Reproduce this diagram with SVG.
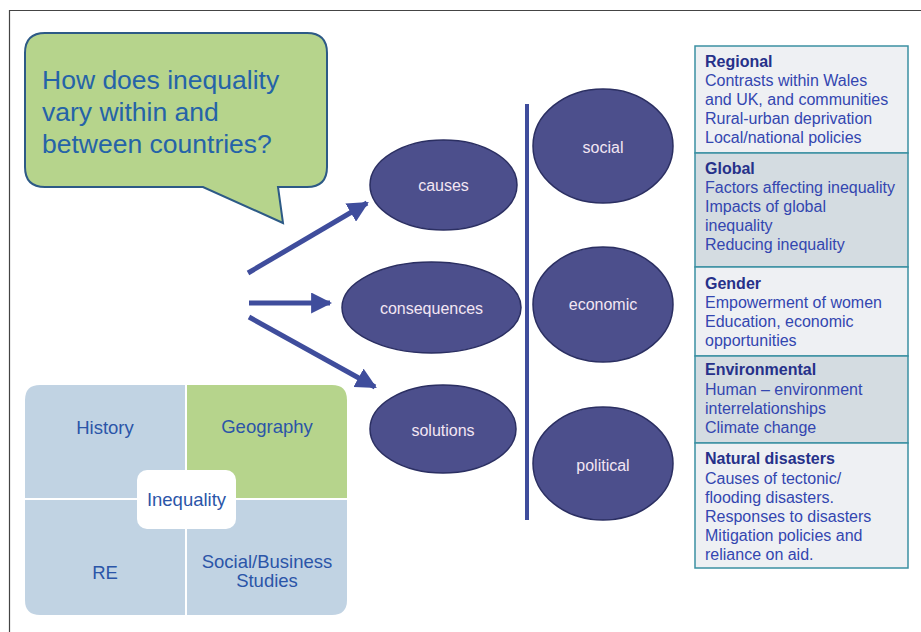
<svg xmlns="http://www.w3.org/2000/svg" width="921" height="632" viewBox="0 0 921 632">
<style>
text{font-family:"Liberation Sans",Arial,sans-serif}
.oval{fill:#4c4f8c;stroke:#2b2f62;stroke-width:1.5}
.ot{fill:#f3e6f3;font-size:16px;text-anchor:middle}
.arr{stroke:#3f4d9c;stroke-width:5;fill:none}
.q{fill:#c1d3e3}
.qt{fill:#2b55a8;font-size:18.5px;text-anchor:middle}
.h{fill:#26318a;font-size:16px;font-weight:bold}
.b{fill:#3346b0;font-size:16px}
.lt{fill:#eef0f3;stroke:#3b90a2;stroke-width:1.5}
.dk{fill:#d4dce1;stroke:#3b90a2;stroke-width:1.5}
</style>
<defs>
<marker id="ah" viewBox="0 0 10 10" refX="9" refY="5" markerWidth="4.2" markerHeight="4.2" orient="auto" markerUnits="strokeWidth">
<path d="M0,0 L10,5 L0,10 z" fill="#3f4d9c"/>
</marker>
</defs>
<rect width="921" height="632" fill="#ffffff"/>
<path d="M9.5,640 V10.5 H930" fill="none" stroke="#444" stroke-width="1.2"/>

<g id="bubble">
<path d="M45,33 H307 Q327,33 327,53 V167 Q327,187 307,187 H278 L283,223 L203,187 H45 Q25,187 25,167 V53 Q25,33 45,33 Z" fill="#b6d48c" stroke="#2d5a86" stroke-width="2"/>
<text x="42" y="89" fill="#2563a8" font-size="26.5">How does inequality</text>
<text x="42" y="121" fill="#2563a8" font-size="26.5">vary within and</text>
<text x="42" y="153" fill="#2563a8" font-size="26.5">between countries?</text>
</g>

<g id="connectors">
<line class="arr" x1="248" y1="273" x2="367" y2="203" marker-end="url(#ah)"/>
<line class="arr" x1="249" y1="303" x2="330" y2="303" marker-end="url(#ah)"/>
<line class="arr" x1="249" y1="317" x2="375" y2="387" marker-end="url(#ah)"/>
<line x1="527" y1="104" x2="527" y2="520" stroke="#3f4d9c" stroke-width="4"/>
</g>

<g id="causes"><ellipse class="oval" cx="443.5" cy="185" rx="73.5" ry="45"/><text class="ot" x="443.5" y="191">causes</text></g>
<g id="consequences"><ellipse class="oval" cx="431.5" cy="307.5" rx="89.5" ry="45.5"/><text class="ot" x="431.5" y="314">consequences</text></g>
<g id="solutions"><ellipse class="oval" cx="443" cy="429" rx="73" ry="44"/><text class="ot" x="443" y="436">solutions</text></g>

<g id="social"><ellipse class="oval" cx="603" cy="146" rx="70" ry="57"/><text class="ot" x="603" y="153">social</text></g>
<g id="economic"><ellipse class="oval" cx="603" cy="304.5" rx="70" ry="57.5"/><text class="ot" x="603" y="310">economic</text></g>
<g id="political"><ellipse class="oval" cx="603" cy="463.5" rx="70" ry="56.5"/><text class="ot" x="603" y="471">political</text></g>

<g id="regional">
<rect class="lt" x="695" y="46" width="213" height="107"/>
<text class="h" x="705" y="67">Regional</text>
<text class="b" x="705" y="86">Contrasts within Wales</text>
<text class="b" x="705" y="105">and UK, and communities</text>
<text class="b" x="705" y="124">Rural-urban deprivation</text>
<text class="b" x="705" y="143">Local/national policies</text>
</g>
<g id="global">
<rect class="dk" x="695" y="153" width="213" height="114"/>
<text class="h" x="705" y="174">Global</text>
<text class="b" x="705" y="193">Factors affecting inequality</text>
<text class="b" x="705" y="212">Impacts of global</text>
<text class="b" x="705" y="231">inequality</text>
<text class="b" x="705" y="250">Reducing inequality</text>
</g>
<g id="gender">
<rect class="lt" x="695" y="267" width="213" height="89"/>
<text class="h" x="705" y="289">Gender</text>
<text class="b" x="705" y="308">Empowerment of women</text>
<text class="b" x="705" y="327">Education, economic</text>
<text class="b" x="705" y="346">opportunities</text>
</g>
<g id="environmental">
<rect class="dk" x="695" y="356" width="213" height="87"/>
<text class="h" x="705" y="375">Environmental</text>
<text class="b" x="705" y="395">Human – environment</text>
<text class="b" x="705" y="414">interrelationships</text>
<text class="b" x="705" y="433">Climate change</text>
</g>
<g id="natural">
<rect class="lt" x="695" y="443" width="213" height="125"/>
<text class="h" x="705" y="464">Natural disasters</text>
<text class="b" x="705" y="484">Causes of tectonic/</text>
<text class="b" x="705" y="503">flooding disasters.</text>
<text class="b" x="705" y="522">Responses to disasters</text>
<text class="b" x="705" y="541">Mitigation policies and</text>
<text class="b" x="705" y="560">reliance on aid.</text>
</g>

<g id="subjects">
<path class="q" d="M40,385 H185 V498 H25 V400 Q25,385 40,385 Z"/>
<path d="M187,385 H332 Q347,385 347,400 V498 H187 Z" fill="#b6d48c"/>
<path class="q" d="M25,500 H185 V615 H40 Q25,615 25,600 Z"/>
<path class="q" d="M187,500 H347 V600 Q347,615 332,615 H187 Z"/>
<text class="qt" x="105" y="434">History</text>
<text class="qt" x="267" y="433">Geography</text>
<text class="qt" x="105" y="579">RE</text>
<text class="qt" x="267" y="568">Social/Business</text>
<text class="qt" x="267" y="587">Studies</text>
</g>
<g id="inequality">
<rect x="137" y="470" width="99" height="59" rx="10" fill="#ffffff"/>
<text class="qt" x="186.5" y="506">Inequality</text>
</g>
</svg>
